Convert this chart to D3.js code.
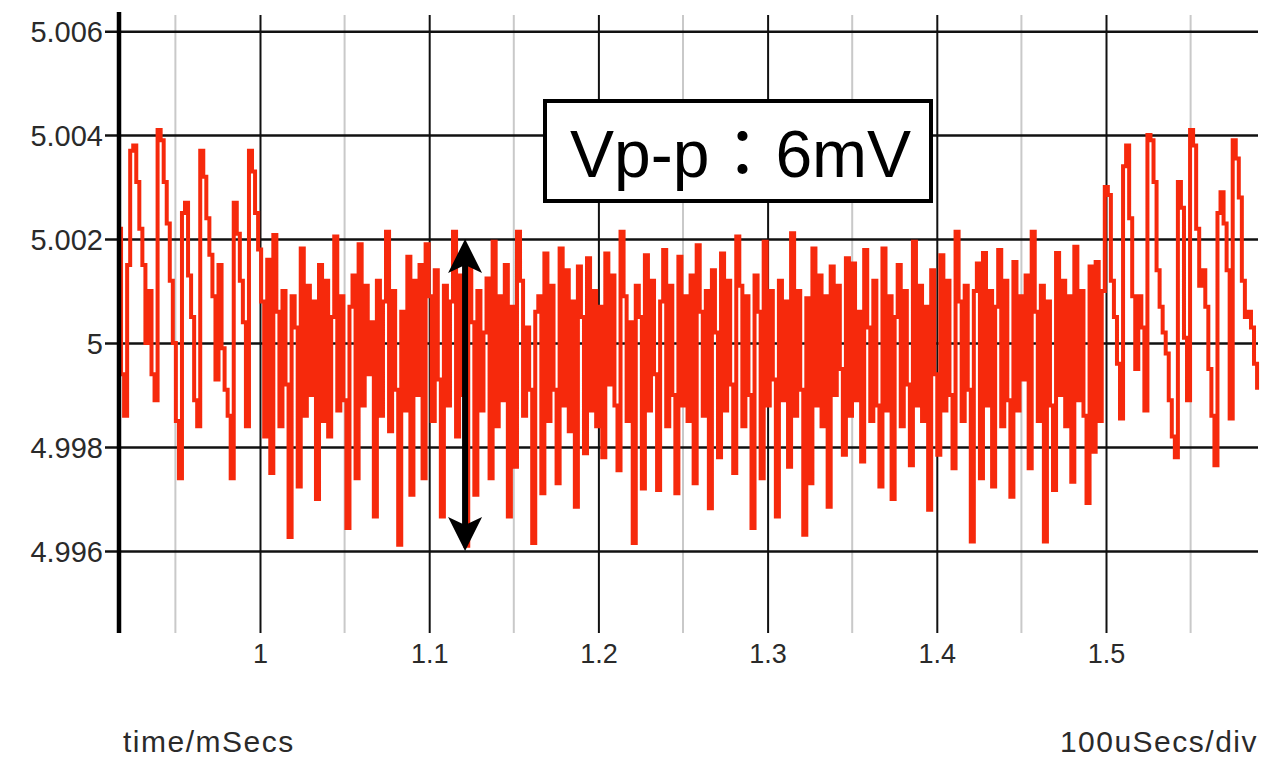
<!DOCTYPE html>
<html>
<head>
<meta charset="utf-8">
<script src="https://cdn.jsdelivr.net/npm/d3@7"></script>
<style>
  body { margin: 0; background: #fff; }
  text { font-family: "Liberation Sans", Arial, sans-serif; }
</style>
</head>
<body>
<div id="scope"></div>
<script>
// sampled voltage (V), one sample every sampleStep ms starting at sampleStart
const sampleStart = 0.91608;
const sampleStep = 0.0018;
const volts = [
  5.0022, 4.9994, 4.9986, 5.0015, 5.0037, 5.0038, 5.0031, 5.0022, 5.0015, 5.0000,
  5.0010, 4.9994, 4.9989, 5.0041, 5.0039, 5.0031, 5.0023, 5.0012, 5.0000, 4.9985,
  4.9974, 5.0025, 5.0027, 5.0013, 5.0005, 4.9989, 4.9984, 5.0037, 5.0032, 5.0024,
  5.0017, 5.0009, 4.9993, 5.0015, 4.9999, 4.9991, 4.9986, 4.9974, 5.0027, 5.0021,
  5.0012, 5.0004, 4.9984, 5.0037, 5.0033, 5.0025, 5.0018, 5.0008, 4.9982, 5.0016,
  4.9975, 5.00208, 5.0006, 4.9984, 5.0010, 4.9992, 4.99627, 5.0009, 5.0003, 4.99724,
  5.00182, 4.9986, 5.0011, 4.9990, 5.0008, 4.9970, 5.0015, 4.9985, 5.0012, 4.9982,
  5.0005, 5.00205, 4.9987, 5.0009, 4.9989, 4.99644, 5.0007, 5.0013, 4.9974, 5.0019,
  4.9988, 5.0011, 4.9994, 5.0004, 4.99666, 5.0012, 4.9986, 5.0008, 5.00214, 4.9983,
  5.0010, 4.9991, 4.99612, 5.0006, 4.9987, 5.00166, 4.99708, 5.0012, 4.9990, 5.0015,
  4.9974, 5.0019, 5.0009, 4.9985, 5.0014, 4.9993, 4.99666, 5.0011, 4.9988, 5.0008,
  5.00214, 4.9982, 5.0013, 4.9990, 4.9961, 5.0016, 5.0004, 4.99708, 5.0010, 4.9987,
  5.0002, 5.00124, 4.9974, 5.00195, 4.9984, 5.0009, 4.9989, 5.0015, 4.99666, 5.0007,
  4.99762, 5.00214, 5.0012, 4.9986, 5.0003, 4.9991, 4.99615, 5.0006, 5.0009, 4.99711,
  5.00172, 4.9985, 5.0011, 4.9991, 4.9973, 5.00182, 4.9988, 5.0014, 4.9983, 5.0008,
  4.99685, 5.00147, 5.0005, 4.99788, 5.00163, 4.9987, 5.0010, 4.9984, 5.0007, 4.9978,
  5.00172, 4.9992, 5.0013, 4.9988, 4.99755, 5.00214, 5.0009, 4.9985, 5.0004, 4.99615,
  5.0011, 5.0005, 4.9972, 5.00169, 4.9987, 5.0012, 4.9994, 4.99717, 5.0008, 5.00179,
  4.9984, 5.0011, 4.9990, 4.99711, 5.00166, 4.9988, 5.0009, 4.9985, 5.0013, 4.9973,
  5.00188, 5.0006, 4.9986, 5.0010, 4.99682, 5.0014, 5.0002, 4.9978, 5.00172, 4.9987,
  5.0012, 4.9992, 4.9975, 5.00205, 5.0011, 4.9984, 5.0009, 4.9990, 4.99644, 5.0013,
  5.0006, 4.9974, 5.00195, 4.9988, 5.0010, 4.9993, 4.99666, 5.0012, 4.9989, 5.0008,
  4.99762, 5.00211, 4.9986, 5.0010, 4.9991, 4.99631, 5.00086, 4.9973, 5.00182, 4.9988,
  5.0013, 4.9984, 5.0009, 4.99685, 5.00147, 4.9990, 5.0011, 4.9995, 4.99785, 5.00163,
  4.9986, 5.00153, 4.9989, 5.0006, 4.99772, 5.00179, 5.0003, 4.9985, 5.0012, 4.9988,
  4.99724, 5.00182, 4.9987, 5.0009, 4.9970, 5.0005, 5.0015, 4.9984, 5.0010, 4.9992,
  4.99765, 5.00195, 4.9988, 5.0011, 4.9985, 5.0007, 4.99679, 5.0014, 4.9994, 4.99785,
  5.00169, 4.9987, 5.0012, 4.9990, 4.99759, 5.00214, 5.0008, 4.9985, 5.0011, 4.9991,
  4.99618, 5.0010, 5.00153, 4.9974, 5.00173, 4.9988, 5.0010, 4.99724, 5.0007, 5.00179,
  4.9984, 5.0012, 4.9989, 4.99704, 5.00156, 4.9987, 5.0009, 4.9993, 5.0013, 4.99759,
  5.00214, 5.0006, 4.9985, 5.0011, 4.99618, 5.0008, 4.9988, 4.99717, 5.00173, 4.9990,
  5.0012, 4.9984, 5.0009, 4.99733, 5.00185, 4.9989, 5.0010, 4.9986, 4.99692, 5.00147,
  4.99791, 5.00156, 4.9985, 5.0010, 5.0030, 5.00285, 5.0012, 5.0005, 4.9996, 4.99855,
  5.0034, 5.0038, 5.0024, 5.0009, 4.9995, 5.0009, 5.0003, 4.9987, 5.0040, 5.0039,
  5.0031, 5.0014, 5.0007, 5.0002, 4.9998, 4.9989, 4.9982, 4.9978, 5.0031, 5.0026,
  5.0001, 4.9989, 5.0041, 5.0038, 5.0022, 5.0011, 5.0014, 5.0007, 4.9995, 4.9986,
  4.99765, 5.0025, 5.0029, 5.0023, 5.0014, 4.99855, 5.0039, 5.00355, 5.0028, 5.0012,
  5.0005, 5.0006, 5.0003, 4.9996, 4.9991
];

const yTicks = [4.996, 4.998, 5, 5.002, 5.004, 5.006];
const yTickLabels = ["4.996", "4.998", "5", "5.002", "5.004", "5.006"];
const xMajorTicks = [1, 1.1, 1.2, 1.3, 1.4, 1.5];
const xTickLabels = ["1", "1.1", "1.2", "1.3", "1.4", "1.5"];
const xMinorTicks = [0.95, 1.05, 1.15, 1.25, 1.35, 1.45, 1.55];

const vppLabel = "Vp-p\uFF1A6mV";
const vppTime = 1.1212;
const vppRange = [4.996, 5.002];
const xAxisTitle = "time/mSecs";
const divLabel = "100uSecs/div";

const width = 1283;
const height = 759;
const plot = { left: 118, right: 1258, top: 14, bottom: 632 };
const traceRed = "#f6290c";
const labelGrey = "#2a2a2a";

const samples = volts.map((v, i) => ({ t: sampleStart + i * sampleStep, v: v }));

const svg = d3.select("#scope")
    .append("svg")
    .attr("width", width)
    .attr("height", height)
    .attr("viewBox", `0 0 ${width} ${height}`);

svg.append("rect").attr("width", width).attr("height", height).attr("fill", "#fff");

const x = d3.scaleLinear()
    .domain([0.91608, 1.58983])
    .range([plot.left, plot.right]);

const y = d3.scaleLinear()
    .domain([4.99444, 5.00633])
    .range([plot.bottom, plot.top]);

// minor vertical grid (grey)
svg.append("g")
    .selectAll("line")
    .data(xMinorTicks)
    .join("line")
    .attr("x1", d => x(d)).attr("x2", d => x(d))
    .attr("y1", plot.top + 1).attr("y2", plot.bottom + 1)
    .attr("stroke", "#c9c9c9")
    .attr("stroke-width", 2);

// major vertical grid
const bottomAxis = d3.axisBottom(x)
    .tickValues(xMajorTicks)
    .tickSize(-(plot.bottom - plot.top))
    .tickFormat((d, i) => xTickLabels[i]);

const gx = svg.append("g")
    .attr("class", "axis-x")
    .attr("transform", `translate(0, ${plot.bottom + 1})`)
    .call(bottomAxis);
gx.select(".domain").remove();
gx.selectAll(".tick line").attr("stroke", "#111").attr("stroke-width", 2);
gx.selectAll(".tick text")
    .attr("y", 30)
    .attr("dy", 0)
    .style("font-size", "27px")
    .style("font-family", "Liberation Sans, Arial, sans-serif")
    .style("fill", labelGrey);

// horizontal grid + left ticks
const leftAxis = d3.axisLeft(y)
    .tickValues(yTicks)
    .tickSize(-(plot.right - plot.left))
    .tickFormat((d, i) => yTickLabels[i]);

const gy = svg.append("g")
    .attr("class", "axis-y")
    .attr("transform", `translate(${plot.left}, 0)`)
    .call(leftAxis);
gy.select(".domain").remove();
gy.selectAll(".tick line")
    .attr("x1", -13)
    .attr("stroke", "#111")
    .attr("stroke-width", 2.5);
gy.selectAll(".tick text")
    .attr("x", -15)
    .attr("dy", "0.36em")
    .style("font-size", "29px")
    .style("font-family", "Liberation Sans, Arial, sans-serif")
    .style("fill", labelGrey);

// trace
const line = d3.line()
    .x(d => x(d.t))
    .y(d => y(d.v))
    .curve(d3.curveStepAfter);

svg.append("path")
    .attr("d", line(samples))
    .attr("fill", "none")
    .attr("stroke", traceRed)
    .attr("stroke-width", 4)
    .attr("stroke-linejoin", "miter");

// left axis bar
svg.append("line")
    .attr("x1", plot.left + 1).attr("x2", plot.left + 1)
    .attr("y1", plot.top - 2).attr("y2", plot.bottom + 1)
    .attr("stroke", "#000")
    .attr("stroke-width", 4.5);

// Vp-p arrow
const ax = x(vppTime);
const yTop = y(vppRange[1]);
const yBot = y(vppRange[0]);
const head = (tipY, dir) => {
    const p = d3.path();
    p.moveTo(ax, tipY);
    p.lineTo(ax + 17, tipY + dir * 34);
    p.lineTo(ax, tipY + dir * 26);
    p.lineTo(ax - 17, tipY + dir * 34);
    p.closePath();
    return p.toString();
};
svg.append("line")
    .attr("x1", ax).attr("x2", ax)
    .attr("y1", yTop + 20).attr("y2", yBot - 20)
    .attr("stroke", "#000")
    .attr("stroke-width", 6);
svg.append("path").attr("d", head(yTop, 1)).attr("fill", "#000");
svg.append("path").attr("d", head(yBot, -1)).attr("fill", "#000");

// Vp-p label box
svg.append("rect")
    .attr("x", 545).attr("y", 101)
    .attr("width", 386).attr("height", 100)
    .attr("fill", "#fff")
    .attr("stroke", "#000")
    .attr("stroke-width", 4);
svg.append("text")
    .attr("x", 570).attr("y", 177)
    .style("font-size", "66px")
    .style("font-family", "Liberation Sans, 'Noto Sans CJK JP', sans-serif")
    .style("fill", "#000")
    .text(vppLabel);

// footer labels
svg.append("text")
    .attr("x", 123).attr("y", 752)
    .style("font-size", "30px")
    .style("letter-spacing", "1.5px")
    .style("fill", labelGrey)
    .text(xAxisTitle);
svg.append("text")
    .attr("x", 1258).attr("y", 752)
    .attr("text-anchor", "end")
    .style("font-size", "30px")
    .style("letter-spacing", "1.5px")
    .style("fill", labelGrey)
    .text(divLabel);
</script>
</body>
</html>
